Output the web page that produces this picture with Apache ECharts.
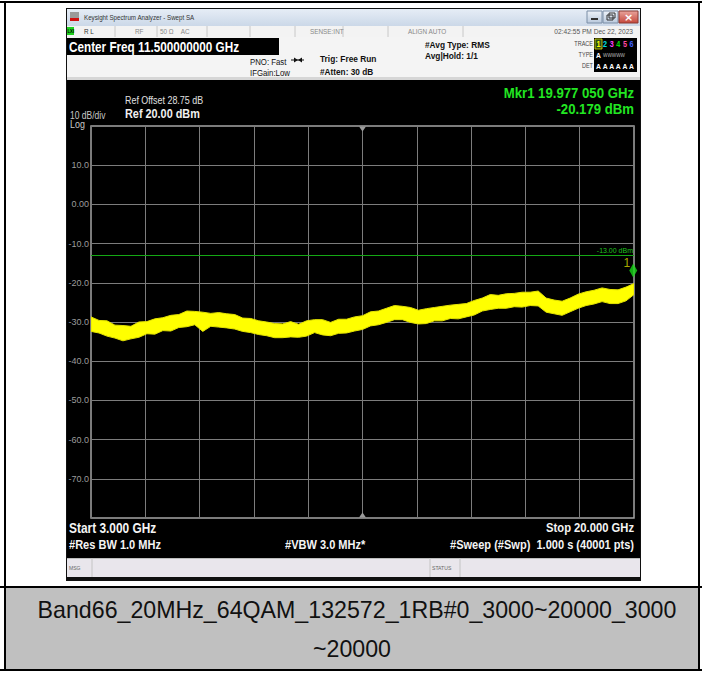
<!DOCTYPE html>
<html><head><meta charset="utf-8">
<script src="https://cdn.jsdelivr.net/npm/echarts@6/dist/echarts.min.js"></script>
<style>
html,body{margin:0;padding:0;background:#fff;}
#page{position:relative;width:702px;height:673px;overflow:hidden;background:#fff;}
.hl{position:absolute;left:0;width:702px;height:2px;background:#000;}
.vl{position:absolute;top:2px;width:2px;height:668px;background:#000;}
#cap{position:absolute;left:6px;top:588px;width:692px;height:81px;background:#c0c0c0;font-family:"Liberation Sans",Arial,sans-serif;font-size:23.2px;color:#111;text-align:center;line-height:39px;padding-top:3px;box-sizing:border-box;}
#cap .l1{position:relative;left:5px;}
#chart{position:absolute;left:0;top:0;width:702px;height:673px;}
</style></head>
<body><div id="page">
<div id="cap"><span class="l1">Band66_20MHz_64QAM_132572_1RB#0_3000~20000_3000</span><br>~20000</div>
<div class="hl" style="top:1px"></div>
<div class="hl" style="top:586px"></div>
<div class="hl" style="top:669px"></div>
<div class="vl" style="left:4px"></div>
<div class="vl" style="left:698px"></div>
<div id="chart"></div>
</div>
<script>
// ---- data ----
const freqGHz = [3, 3.25, 3.5, 3.75, 4, 4.25, 4.5, 4.75, 5, 5.25, 5.5, 5.75, 6, 6.25, 6.5, 6.75, 7, 7.25, 7.5, 7.75, 8, 8.25, 8.5, 8.75, 9, 9.25, 9.5, 9.75, 10, 10.25, 10.5, 10.75, 11, 11.25, 11.5, 11.75, 12, 12.25, 12.5, 12.75, 13, 13.25, 13.5, 13.75, 14, 14.25, 14.5, 14.75, 15, 15.25, 15.5, 15.75, 16, 16.25, 16.5, 16.75, 17, 17.25, 17.5, 17.75, 18, 18.25, 18.5, 18.75, 19, 19.25, 19.5, 19.75, 20];
const traceHigh = [-28.7, -29.6, -29.7, -30.8, -30.9, -31.1, -30.0, -29.9, -29.2, -28.9,
  -28.3, -28.1, -27.2, -27.3, -27.5, -27.8, -27.6, -27.9, -28.1, -29.0,
  -29.1, -29.7, -30.0, -30.4, -30.5, -29.9, -30.6, -29.7, -29.4, -29.4,
  -30.1, -29.3, -29.3, -28.7, -28.4, -27.4, -27.2, -26.5, -25.8, -26.0,
  -26.3, -27.0, -26.6, -26.3, -26.0, -25.7, -25.5, -25.3, -24.5, -23.9,
  -23.0, -23.2, -22.8, -22.7, -22.4, -22.4, -22.1, -23.9, -24.4, -24.7,
  -23.9, -22.9, -22.3, -21.9, -21.3, -21.7, -21.8, -21.1, -20.2];
const traceLow = [-32.4, -32.8, -33.6, -34.1, -34.8, -34.3, -33.9, -33.0, -33.1, -32.2,
  -32.3, -31.4, -31.2, -30.7, -32.4, -31.1, -31.3, -31.5, -31.8, -32.4,
  -32.7, -33.2, -33.5, -34.0, -34.0, -33.8, -33.9, -33.6, -32.7, -33.3,
  -33.5, -32.9, -32.8, -32.3, -31.9, -31.0, -30.7, -30.1, -29.4, -29.4,
  -30.1, -30.5, -30.4, -29.7, -29.7, -29.1, -29.2, -28.7, -28.2, -27.2,
  -26.8, -26.5, -26.5, -26.1, -26.2, -25.8, -25.9, -27.5, -27.9, -28.3,
  -27.4, -26.5, -25.8, -25.4, -24.8, -25.3, -25.3, -24.6, -23.0];
const yTickValues = [10, 0, -10, -20, -30, -40, -50, -60, -70];
const yTickLabels = ['10.0', '0.00', '-10.0', '-20.0', '-30.0', '-40.0', '-50.0', '-60.0', '-70.0'];
const refLevel = 20, bottomLevel = -80, dbPerDiv = 10;
const startGHz = 3, stopGHz = 20, centerGHz = 11.5;
const limitDbm = -13;
const limitLabel = '-13.00 dBm';
const markerFreq = 19.977, markerDbm = -20.179;

// ---- drawing ----
const FN = '"Liberation Sans",Arial,sans-serif';
const NX = 0.85; // narrow look of the analyzer font
function R(x, y, w, h, fill, extra) {
  return Object.assign({type: 'rect', silent: true, z: -5, shape: {x: x, y: y, width: w, height: h}, style: {fill: fill}}, extra || {});
}
function L(x1, y1, x2, y2, color, w, z) {
  return {type: 'line', silent: true, z: z == null ? -4 : z, shape: {x1: x1, y1: y1, x2: x2, y2: y2}, style: {stroke: color, lineWidth: w || 1}};
}
function T(x, y, text, size, color, opts) {
  opts = opts || {};
  const sx = opts.sx == null ? NX : opts.sx;
  delete opts.sx;
  const st = Object.assign({text: text, fontSize: size, fill: color, fontFamily: FN,
    align: 'left', verticalAlign: 'middle'}, opts);
  st.textAlign = st.align; st.textVerticalAlign = st.verticalAlign;
  return {type: 'text', silent: true, z: 50, x: x, y: y, scaleX: sx, scaleY: 1, style: st};
}
const grad = (a, b) => ({type: 'linear', x: 0, y: 0, x2: 0, y2: 1, colorStops: [{offset: 0, color: a}, {offset: 1, color: b}]});

const g = [];
// window frame
g.push(R(66, 8, 575, 573, '#101010', {z: -8}));
// title bar
g.push(R(67, 9, 573, 17, grad('#e6edf6', '#cbd8e8'), {z: -6}));
g.push(R(70, 12, 9, 6, '#9a9a9a', {z: -4}));
g.push(R(70, 18, 9, 3, '#d01010', {z: -4}));
g.push(T(84, 17.5, 'Keysight Spectrum Analyzer - Swept SA', 7.3, '#333'));
// window buttons
g.push(R(587, 11, 15, 12, '', {z: -4, style: {fill: grad('#eef3f9', '#b9c9dc'), stroke: '#7b8ea6', lineWidth: 1}}));
g.push(R(591, 18, 7, 2, '#333', {z: -3}));
g.push(R(603, 11, 15, 12, '', {z: -4, style: {fill: grad('#eef3f9', '#b9c9dc'), stroke: '#7b8ea6', lineWidth: 1}}));
g.push(R(607, 15, 6, 5, '', {z: -3, style: {fill: 'none', stroke: '#333', lineWidth: 1}}));
g.push(R(609, 13, 6, 5, '', {z: -3, style: {fill: 'none', stroke: '#333', lineWidth: 1}}));
g.push(R(619, 11, 19, 12, '', {z: -4, style: {fill: grad('#e9a49c', '#c5483c'), stroke: '#8a3a33', lineWidth: 1}}));
g.push(T(628.5, 17, '×', 11, '#fff', {align: 'center', fontWeight: 'bold', fontFamily: 'DejaVu Sans', sx: 1}));
// status row
g.push(R(67, 26, 573, 11, '#f3f3f3', {z: -6}));
[115, 157, 207, 250, 295, 343, 388, 463].forEach(x => g.push(L(x, 26, x, 37, '#c8c8c8', 1)));
g.push(R(67, 27, 7, 8, '#1fd01f', {z: -4}));
g.push(T(67.5, 31.5, 'LXI', 5, '#000', {fontWeight: 'bold'}));
g.push(T(84, 31.5, 'R L', 7.5, '#333'));
g.push(T(135, 31.5, 'RF', 7.5, '#888'));
g.push(T(160, 31.5, '50 Ω    AC', 7.5, '#888'));
g.push(T(310, 31.5, 'SENSE:INT', 7.5, '#888'));
g.push(T(408, 31.5, 'ALIGN AUTO', 7.5, '#888'));
g.push(T(633, 31.5, '02:42:55 PM Dec 22, 2023', 7.8, '#555', {align: 'right'}));
// settings rows
g.push(R(67, 37, 573, 43, '#f4f4f4', {z: -6}));
g.push(R(67, 77, 573, 3, '#d6d6d6', {z: -5}));
g.push(R(67, 38, 212, 17, '#000', {z: -4}));
g.push(T(69, 47, 'Center Freq 11.500000000 GHz', 13.8, '#fff', {fontWeight: 'bold'}));
g.push(T(250, 62, 'PNO: Fast', 9.2, '#111'));
g.push(T(250, 72.5, 'IFGain:Low', 9.2, '#111'));
g.push(L(291, 60, 304, 60, '#111', 1, 10));
g.push({type: 'polygon', silent: true, z: 10, shape: {points: [[294, 57.5], [298, 60], [294, 62.5]]}, style: {fill: '#111'}});
g.push({type: 'polygon', silent: true, z: 10, shape: {points: [[302, 57.5], [298, 60], [302, 62.5]]}, style: {fill: '#111'}});
g.push(T(320, 59, 'Trig: Free Run', 9.8, '#111', {fontWeight: 'bold'}));
g.push(T(320, 72, '#Atten: 30 dB', 9.7, '#111', {fontWeight: 'bold'}));
g.push(T(425, 45, '#Avg Type: RMS', 9.8, '#111', {fontWeight: 'bold'}));
g.push(T(425, 56, 'Avg|Hold: 1/1', 9.8, '#111', {fontWeight: 'bold'}));
g.push(T(593, 44, 'TRACE', 6.5, '#444', {align: 'right'}));
g.push(T(593, 55, 'TYPE', 6.5, '#444', {align: 'right'}));
g.push(T(593, 66, 'DET', 6.5, '#444', {align: 'right'}));
g.push(R(594, 38, 43, 34, '#000', {z: -4}));
g.push(R(595, 39, 7, 10, '', {z: -3, style: {fill: '#2a4a1a', stroke: '#e0e000', lineWidth: 0.8}}));
const trColors = ['#ffff00', '#00e0e0', '#ff40ff', '#00e000', '#ff4aa0', '#4060ff'];
trColors.forEach((c, i) => g.push(T(598.5 + i * 6.6, 44, String(i + 1), 8.5, c, {align: 'center', fontWeight: 'bold'})));
g.push(T(598.5, 55, 'A', 8, '#fff', {align: 'center', fontWeight: 'bold'}));
g.push(T(603, 55, 'WWWWW', 5.5, '#bbb'));
for (let i = 0; i < 6; i++) g.push(T(598.5 + i * 6.6, 66, 'A', 8, '#fff', {align: 'center', fontWeight: 'bold'}));
// black screen
g.push(R(67, 80, 573, 478, '#000', {z: -6}));
g.push(T(125, 100, 'Ref Offset 28.75 dB', 10.5, '#e0e0e0'));
g.push(T(125, 114, 'Ref 20.00 dBm', 12.8, '#f0f0f0', {fontWeight: 'bold'}));
g.push(T(70, 116, '10 dB/div', 10, '#c8c8c8'));
g.push(T(70, 124.5, 'Log', 10.5, '#c8c8c8'));
g.push(T(634, 93, 'Mkr1 19.977 050 GHz', 15.5, '#22e622', {align: 'right', fontWeight: 'bold'}));
g.push(T(634, 109, '-20.179 dBm', 15.5, '#22e622', {align: 'right', fontWeight: 'bold'}));
g.push(T(69, 528, 'Start 3.000 GHz', 14, '#f4f4f4', {fontWeight: 'bold'}));
g.push(T(69, 545, '#Res BW 1.0 MHz', 13, '#f4f4f4', {fontWeight: 'bold'}));
g.push(T(285, 545, '#VBW 3.0 MHz*', 13, '#f4f4f4', {fontWeight: 'bold'}));
g.push(T(634, 528, 'Stop 20.000 GHz', 13.2, '#f4f4f4', {align: 'right', fontWeight: 'bold'}));
g.push(T(634, 545, '#Sweep (#Swp)  1.000 s (40001 pts)', 13, '#f4f4f4', {align: 'right', fontWeight: 'bold'}));
// message bar
g.push(R(67, 558, 573, 19, '#e9e6ec', {z: -5}));
g.push(L(67, 558.5, 640, 558.5, '#bdbdbd', 1));
g.push(L(92, 558, 92, 577, '#c4c4c4', 1));
g.push(L(430, 558, 430, 577, '#c4c4c4', 1));
g.push(L(460, 558, 460, 577, '#c4c4c4', 1));
g.push(T(69, 567.5, 'MSG', 6, '#666'));
g.push(T(432, 567.5, 'STATUS', 6, '#666'));

const chart = echarts.init(document.getElementById('chart'), null, {renderer: 'svg'});
const bandData = freqGHz.map((f, i) => [f, traceLow[i], traceHigh[i]]);

chart.setOption({
  animation: false,
  backgroundColor: 'transparent',
  graphic: {elements: g},
  grid: {left: 91, top: 126, width: 543, height: 392, show: true, borderColor: '#a4a4a4', borderWidth: 1.5, backgroundColor: 'transparent', containLabel: false},
  xAxis: [
    {type: 'value', min: 0, max: 10, interval: 1, axisLine: {show: false}, axisTick: {show: false}, axisLabel: {show: false},
      splitLine: {show: true, lineStyle: {color: '#7c7c7c', width: 1}}},
    {type: 'value', min: startGHz, max: stopGHz, show: false, splitLine: {show: false}}
  ],
  yAxis: {type: 'value', min: bottomLevel, max: refLevel, interval: dbPerDiv,
    axisLine: {show: false}, axisTick: {show: false},
    axisLabel: {show: true, showMinLabel: false, showMaxLabel: false, margin: 2, fontSize: 9, color: '#9c9c9c', fontFamily: FN,
      formatter: v => { const i = yTickValues.indexOf(v); return i < 0 ? '' : yTickLabels[i]; }},
    splitLine: {show: true, lineStyle: {color: '#7c7c7c', width: 1}}},
  series: [
    {type: 'custom', xAxisIndex: 1, yAxisIndex: 0, data: bandData, z: 4, clip: true,
      encode: {x: 0, y: [1, 2]},
      renderItem: (params, api) => {
        if (params.dataIndex !== 0) return null;
        const top = bandData.map(d => api.coord([d[0], d[2]]));
        const bot = bandData.map(d => api.coord([d[0], d[1]])).reverse();
        return {type: 'polygon', shape: {points: top.concat(bot)}, style: {fill: '#ffff00', stroke: '#e4e400', lineWidth: 1}};
      }
    },
    {type: 'scatter', xAxisIndex: 1, data: [[markerFreq, markerDbm]], symbol: 'diamond', symbolSize: [8, 14], symbolOffset: [0, -13], z: 6,
      itemStyle: {color: '#18d818'},
      label: {show: true, formatter: '1', position: 'left', offset: [6, -8], color: '#d8d800', fontSize: 12, fontFamily: FN},
      markLine: {silent: true, symbol: 'none', animation: false,
        lineStyle: {color: '#14a814', width: 1, type: 'solid'},
        label: {show: true, position: 'insideEndTop', formatter: limitLabel, color: '#1fc01f', fontSize: 7, fontFamily: FN, distance: 1},
        data: [{yAxis: limitDbm}]},
      markPoint: {silent: true, animation: false, symbol: 'triangle', symbolSize: [7, 5], itemStyle: {color: '#9a9a9a'}, label: {show: false},
        data: [{coord: [centerGHz, refLevel], symbolRotate: 180, symbolOffset: [0, 3]}, {coord: [centerGHz, bottomLevel], symbolOffset: [0, -3]}]}
    }
  ]
});
</script>
</body></html>
